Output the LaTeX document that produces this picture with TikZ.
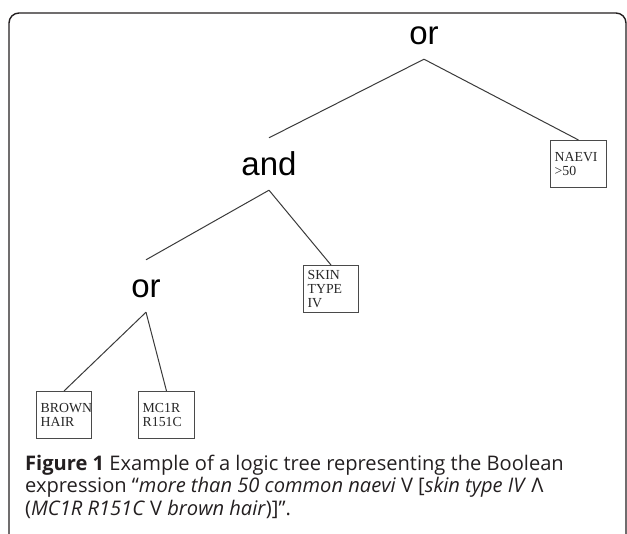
\documentclass[tikz,border=0pt]{standalone}
\usepackage{fontspec}
\setmainfont{Liberation Serif}
\newfontfamily\opfont{Liberation Sans}
\newfontfamily\capfont{Open Sans}
\definecolor{capgray}{HTML}{231F20}
\definecolor{linegray}{HTML}{3A3A3A}
\definecolor{boxgray}{HTML}{4A4A4A}
\begin{document}
\begin{tikzpicture}[x=1pt,y=-1pt,
  opnode/.style={font=\opfont\fontsize{33}{33}\selectfont, anchor=base, inner xsep=2pt, inner ysep=14pt, text height=24pt, text depth=0pt},
  leaf/.style={draw=boxgray, line width=1.3pt, anchor=north, minimum height=47pt, inner xsep=4pt, inner ysep=0pt, align=left, text=black!85, font=\fontsize{13.8}{13.8}\selectfont},
  edge/.style={draw=linegray, line width=1pt},
  frame/.style={draw=capgray, line width=1.4pt, rounded corners=10pt}]
\useasboundingbox (0,0) rectangle (627,534);
\draw[frame] (9,545) -- (9,13) -- (626,13) -- (626,545);
% operator nodes
\node[opnode] (or1) at (424,45) {or};
\node[opnode] (and) at (269,176) {and};
\node[opnode] (or2) at (146,298) {or};
% leaves
\node[leaf, text width=47.7pt] (naevi) at (578.5,140) {NAEVI\\>50};
\node[leaf, text width=46.7pt] (skin) at (331,265) {SKIN\\TYPE\\IV};
\node[leaf, text width=46.7pt] (brown) at (64,391) {BROWN\\HAIR};
\node[leaf, text width=47.7pt] (mc1r) at (166.5,391) {MC1R\\R151C};
% connectors
\draw[edge] (or1.south) -- (and.north);
\draw[edge] (or1.south) -- (naevi.north);
\draw[edge] (and.south) -- (or2.north);
\draw[edge] (and.south) -- (skin.north);
\draw[edge] (or2.south) -- (brown.north);
\draw[edge] (or2.south) -- (mc1r.north);
% caption
\node[anchor=base west, inner sep=0pt, align=left, text=capgray, font=\capfont\fontsize{20.1}{22.5}\selectfont] (cap) at (25,515)
  {\textbf{Figure 1} Example of a logic tree representing the Boolean\\
   expression “\textit{more than 50 common naevi} V [\textit{skin type IV} Λ\\
   (\textit{MC1R R151C} V \textit{brown hair})]”.};
\end{tikzpicture}
\end{document}
